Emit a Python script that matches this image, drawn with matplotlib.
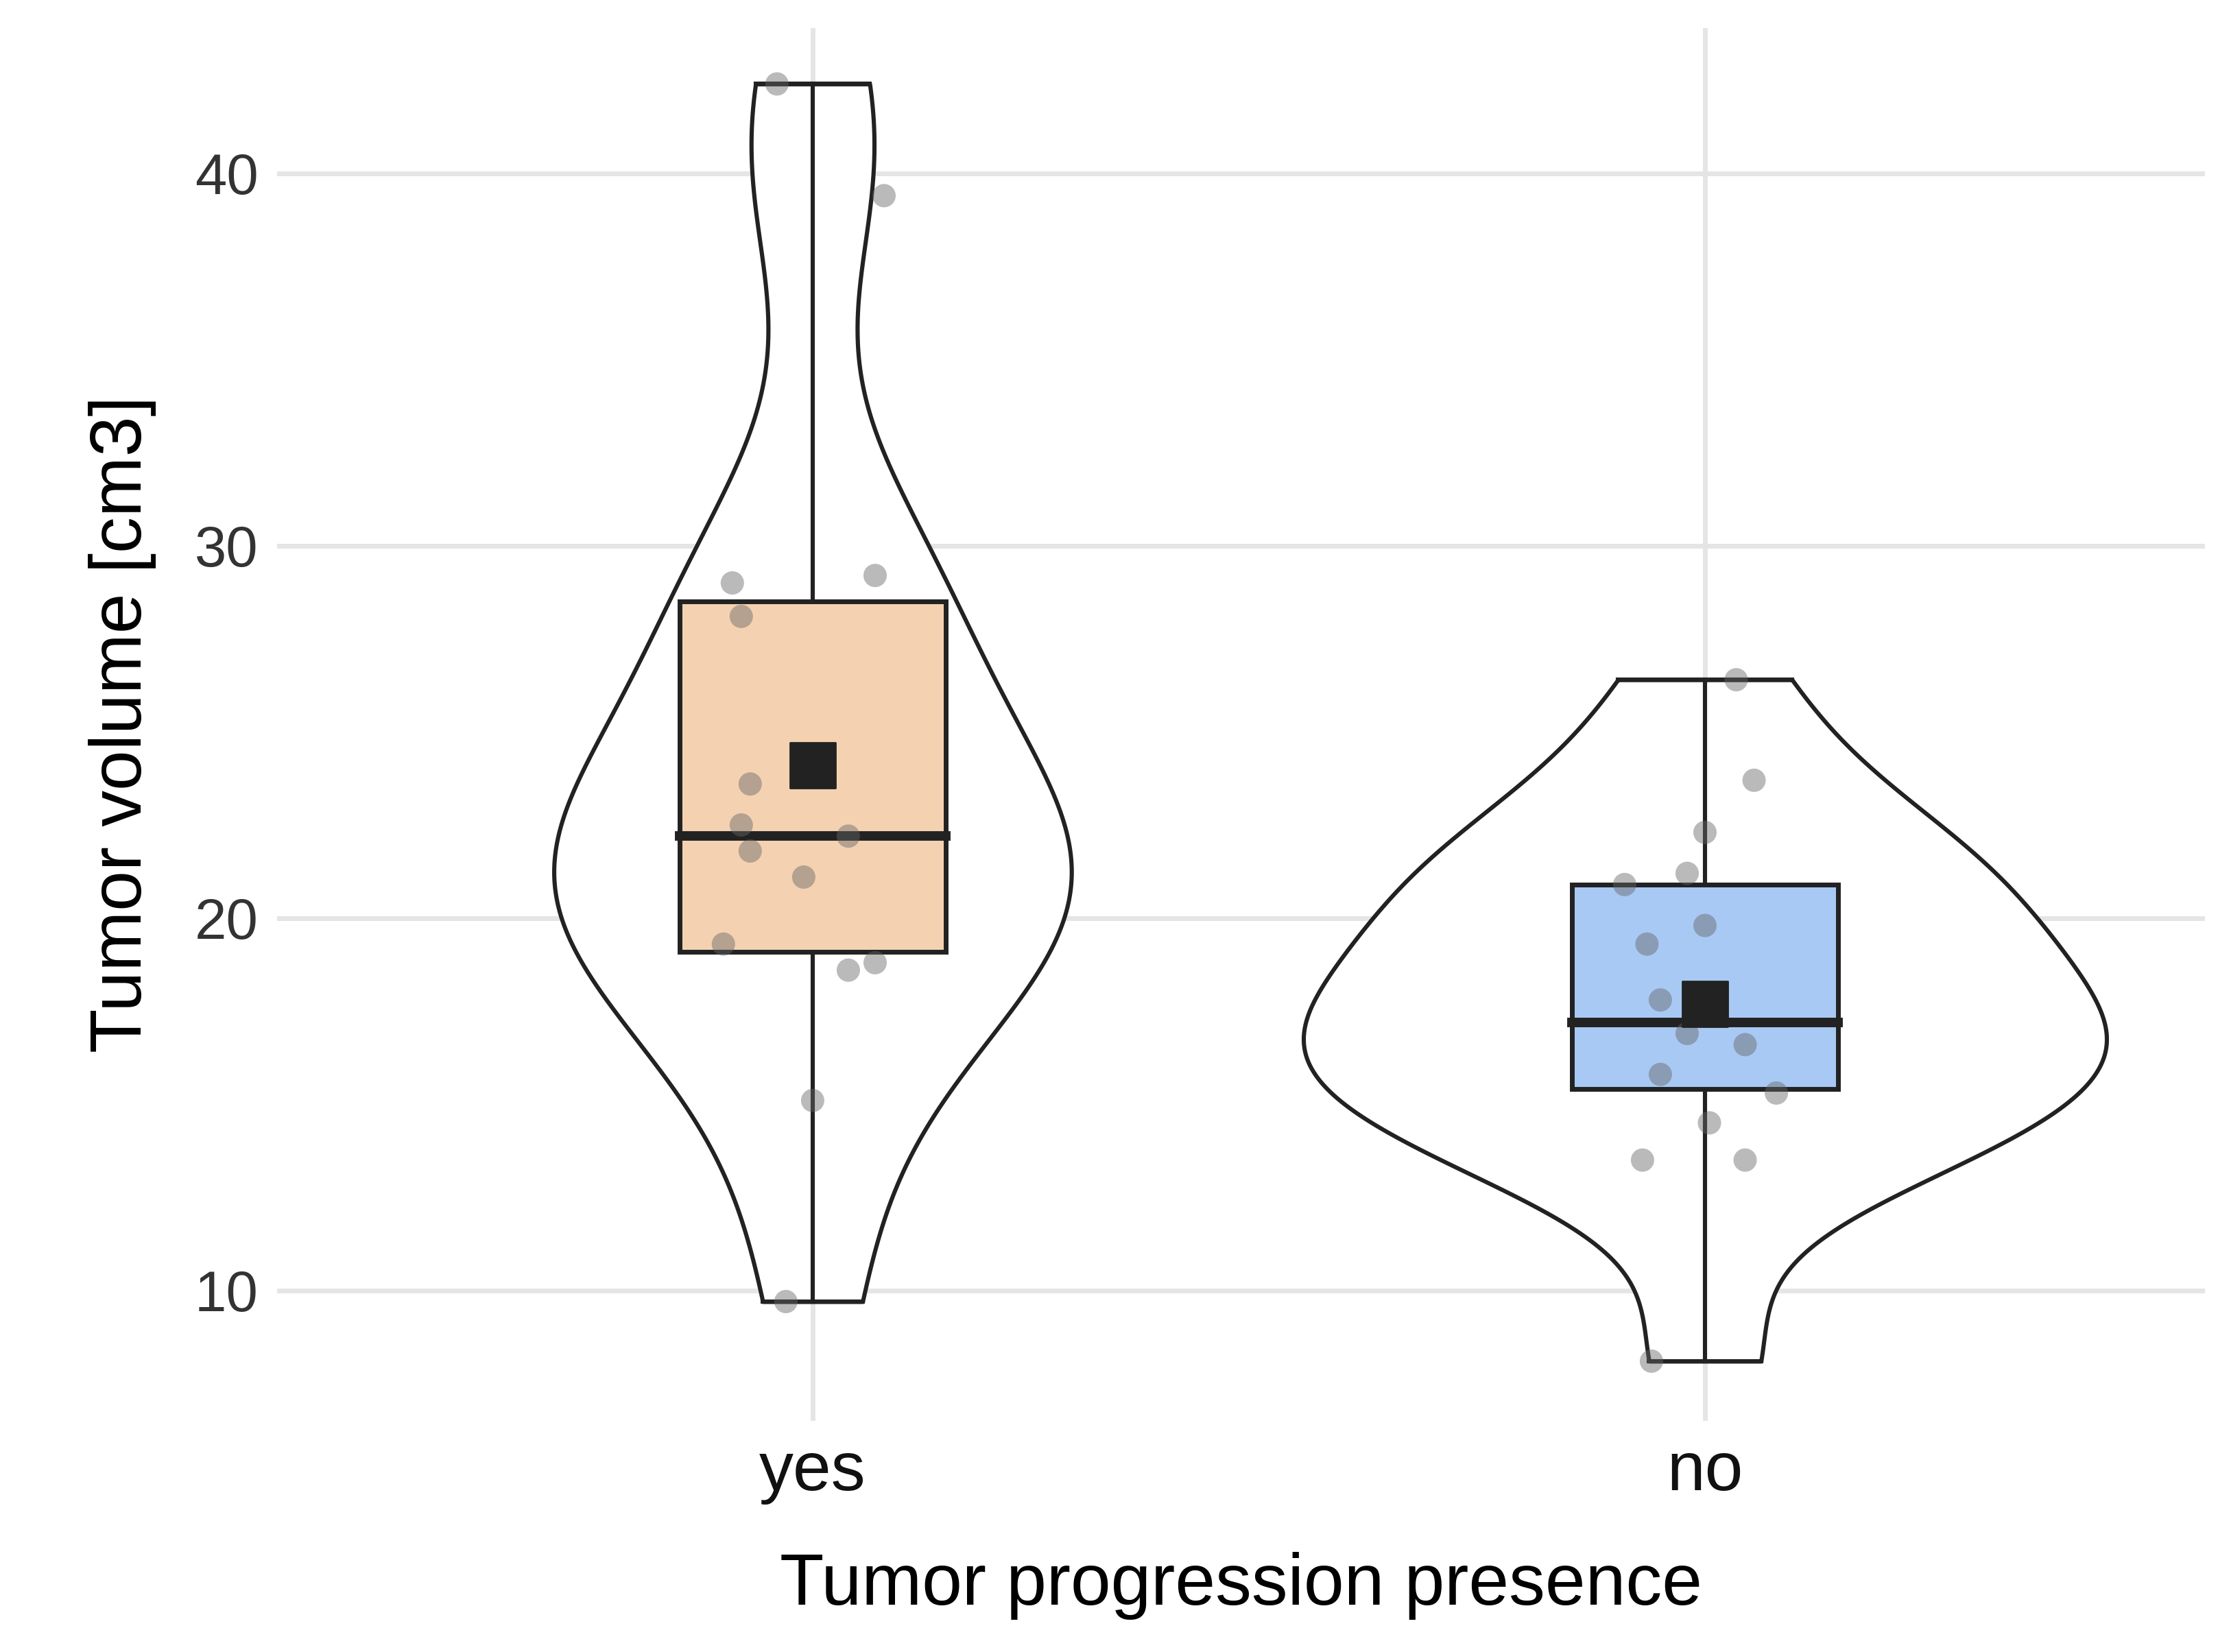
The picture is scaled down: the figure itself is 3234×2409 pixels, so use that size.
import numpy as np
import matplotlib
matplotlib.use("Agg")
import matplotlib.pyplot as plt
from matplotlib.patches import Rectangle

plt.rcParams['font.family'] = ['Liberation Sans', 'DejaVu Sans']

categories = ["yes", "no"]
yes_vals = [42.4, 39.4, 29.0, 29.2, 28.1, 23.6, 22.5, 21.8, 22.2, 21.1, 19.3, 18.6, 18.8, 15.1, 9.7]
yes_jit = [-0.04, 0.08, -0.09, 0.07, -0.08, -0.07, -0.08, -0.07, 0.04, -0.01, -0.1, 0.04, 0.07, 0.0, -0.03]
no_vals = [26.4, 23.7, 22.3, 21.2, 20.9, 19.8, 19.3, 17.8, 17.5, 16.9, 16.6, 15.8, 15.3, 14.5, 13.5, 13.5, 8.1]
no_jit = [0.035, 0.055, 0.0, -0.02, -0.09, 0.0, -0.065, -0.05, -0.005, -0.02, 0.045, -0.05, 0.08, 0.005, -0.07, 0.045, -0.06]
box_q1 = [19.1, 15.4]
box_med = [22.2, 17.2]
box_q3 = [28.5, 20.9]
means = [24.1, 17.7]
violin_halfwidth = [0.29, 0.45]
fills = ["#F4D2B1", "#A8C9F4"]

fig = plt.figure(figsize=(16.17, 12.045), dpi=200)
ax = fig.add_axes([0.125, 0.14, 0.869, 0.843])
ax.set_xlim(0.4, 2.56)
ax.set_ylim(6.5, 43.9)
for s in ax.spines.values():
    s.set_visible(False)
ax.grid(True, color="#E5E5E5", lw=2.5)
ax.set_axisbelow(True)
ax.tick_params(length=0, pad=10)

def kde(vals):
    v = np.array(vals)
    n = len(v)
    bw = 0.9 * min(v.std(ddof=1), (np.percentile(v, 75) - np.percentile(v, 25)) / 1.34) * n ** -0.2
    ys = np.linspace(v.min(), v.max(), 400)
    d = np.exp(-0.5 * ((ys[:, None] - v[None, :]) / bw) ** 2).sum(1)
    return ys, d / d.max()

for i, (vals, jit) in enumerate([(yes_vals, yes_jit), (no_vals, no_jit)]):
    x = i + 1
    ys, d = kde(vals)
    w = d * violin_halfwidth[i]
    ax.fill_betweenx(ys, x - w, x + w, facecolor="white", edgecolor="#222222", lw=2.2, zorder=2)
    ax.plot([x - w[0], x + w[0]], [ys[0]] * 2, color="#222222", lw=2.2, zorder=2)
    ax.plot([x - w[-1], x + w[-1]], [ys[-1]] * 2, color="#222222", lw=2.2, zorder=2)
    ax.plot([x, x], [min(vals), max(vals)], color="#222222", lw=2.2, zorder=3)
    ax.add_patch(Rectangle((x - 0.149, box_q1[i]), 0.298, box_q3[i] - box_q1[i],
                           facecolor=fills[i], edgecolor="#222222", lw=2.5, zorder=4))
    ax.plot([x - 0.149, x + 0.149], [box_med[i]] * 2, color="#222222", lw=5, zorder=5)
    ax.scatter(np.array(jit) + x, vals, s=150, color="#666666", alpha=0.45, zorder=6, edgecolors="none")
    ax.scatter([x], [means[i]], marker="s", s=550, color="#222222", zorder=7)

ax.set_xticks([1, 2])
ax.set_xticklabels(categories, fontsize=36, color="#111111")
ax.set_yticks([10, 20, 30, 40])
ax.set_yticklabels(["10", "20", "30", "40"], fontsize=30, color="#333333")
ax.set_xlabel("Tumor progression presence", fontsize=38, labelpad=25)
ax.set_ylabel("Tumor volume [cm3]", fontsize=38, labelpad=20)
fig.savefig("out.png", dpi=200)
